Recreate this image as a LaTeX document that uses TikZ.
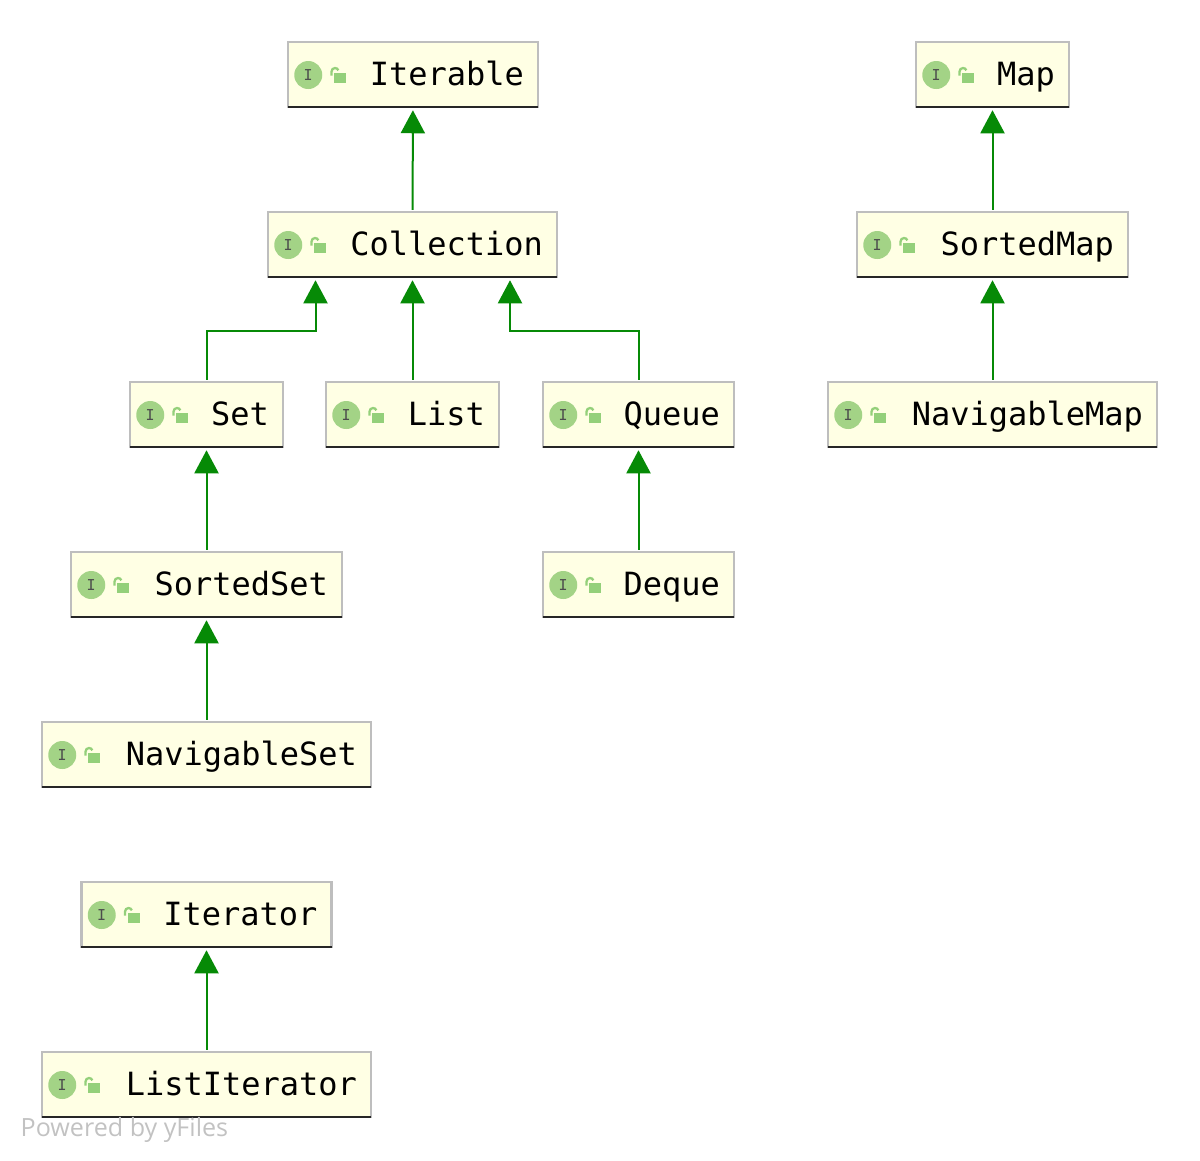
\documentclass[tikz,border=0pt]{standalone}
\usepackage{fontspec}
\setmonofont{DejaVu Sans Mono}
\setsansfont{Open Sans}
\usepackage{tikz}
\usetikzlibrary{arrows.meta}
\usetikzlibrary{calc}
\definecolor{boxfill}{HTML}{FFFFE4}
\definecolor{boxline}{HTML}{BEBEBE}
\definecolor{iconfill}{HTML}{A3D386}
\definecolor{lockfill}{HTML}{94D07A}
\definecolor{edgegreen}{HTML}{068A06}
\tikzset{
  ifacebox/.style={draw=boxline, fill=boxfill, line width=2.5pt, inner xsep=14pt, inner ysep=0pt,
    text width=#1-28pt, align=right, minimum height=65pt, text height=24pt, text depth=3pt,
    font=\ttfamily\fontsize{32}{36}\selectfont},
  ifaceicon/.style={circle, fill=iconfill, minimum size=28pt, inner sep=0pt, text=black!70,
    font=\ttfamily\fontsize{15}{16}\selectfont},
  extends/.style={-{Triangle[width=24pt,length=23pt]}, draw=edgegreen, line width=2pt, shorten >=2pt, shorten <=1pt}
}
% box, dark bottom rule, circle and open lock
\newcommand{\ifacenode}[5]{
  \node[ifacebox=#4] (#1) at (#2,#3){#5};
  \draw[line width=1.8pt, black!85] ($(#1.south west)+(1,1.3)$) -- ($(#1.south east)+(-1,1.3)$);
  \node[ifaceicon] (#1i) at ($(#1.west)+(21.5,-0.5)$){I};
  \fill[lockfill] ($(#1.west)+(47.5,-8.5)$) rectangle ($(#1.west)+(59.5,2)$);
  \draw[lockfill, line width=2.3pt] ($(#1.west)+(44.8,-1)$) -- ($(#1.west)+(44.8,3)$) arc (180:20:3.5pt);
}
\begin{document}
\begin{tikzpicture}[x=1pt, y=1pt]
      \useasboundingbox (0,0) rectangle (1200,-1160);
      \ifacenode{tidIterable}{413}{-74.5}{250pt}{Iterable}
      \ifacenode{tidCollection}{412.5}{-244.5}{289pt}{Collection}
      \ifacenode{tidSet}{206.5}{-414.5}{153pt}{Set}
      \ifacenode{tidList}{412.5}{-414.5}{173pt}{List}
      \ifacenode{tidQueue}{638.5}{-414.5}{191pt}{Queue}
      \ifacenode{tidSortedSet}{206.5}{-584.5}{271pt}{SortedSet}
      \ifacenode{tidDeque}{638.5}{-584.5}{191pt}{Deque}
      \ifacenode{tidNavigableSet}{206.5}{-754.5}{329pt}{NavigableSet}
      \ifacenode{tidIterator}{206.5}{-914.5}{250pt}{Iterator}
      \ifacenode{tidListIterator}{206.5}{-1084.5}{329pt}{ListIterator}
      \ifacenode{tidMap}{992.5}{-74.5}{153pt}{Map}
      \ifacenode{tidSortedMap}{992.5}{-244.5}{271pt}{SortedMap}
      \ifacenode{tidNavigableMap}{992.5}{-414.5}{329pt}{NavigableMap}
      \draw[extends](tidCollection) -- (tidIterable);
      \draw[extends](tidSet.north) -- ++(0,50) -| ($(tidCollection.south)+(-97,0)$);
      \draw[extends](tidList) -- (tidCollection);
      \draw[extends](tidQueue.north) -- ++(0,50) -| ($(tidCollection.south)+(97.5,0)$);
      \draw[extends](tidSortedSet.north) -- (tidSet);
      \draw[extends](tidNavigableSet.north) -- (tidSortedSet);
      \draw[extends](tidDeque) -- (tidQueue);
      \draw[extends](tidListIterator) -- (tidIterator);
      \draw[extends](tidSortedMap) -- (tidMap);
      \draw[extends](tidNavigableMap) -- (tidSortedMap);
      \node[anchor=base west, inner sep=0pt, text=black!24, font=\sffamily\fontsize{25.1}{28}\selectfont] (tidPowered) at (20.5,-1136){Powered by yFiles};
    \end{tikzpicture}
\end{document}
